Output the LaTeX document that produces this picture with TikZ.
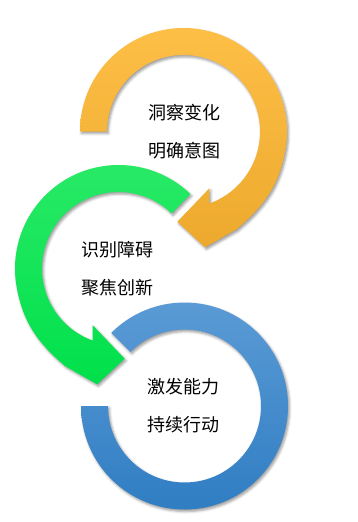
\documentclass[tikz,border=0pt]{standalone}
\usepackage{fontspec}
\newfontfamily\cjk{Noto Sans CJK SC}
\usetikzlibrary{shadows.blur}
\definecolor{orT}{HTML}{FEBF47}
\definecolor{orB}{HTML}{ECA92D}
\definecolor{gnT}{HTML}{2AEA67}
\definecolor{gnB}{HTML}{00E04B}
\definecolor{blT}{HTML}{5C9CD6}
\definecolor{blB}{HTML}{2E7CC2}
\begin{document}
\begin{tikzpicture}[x=1pt,y=1pt,
  ring/.style={blur shadow={shadow xshift=1.5pt,shadow yshift=-2pt,shadow blur radius=2.5pt,shadow opacity=40}},
  lbl/.style={font=\cjk\fontsize{18}{20}\selectfont,inner sep=0pt,text=black}]
\useasboundingbox (0,0) rectangle (357,-522);

% blue ring
\begin{scope}[shift={(184.5,-406)}]
\path[ring,top color=blT,bottom color=blB]
  (135:76.5) -- (135:103.5) arc[start angle=135,end angle=-180,radius=103.5]
  -- (180:76.5) arc[start angle=-180,end angle=135,radius=76.5] -- cycle;
\end{scope}

% green arrow
\begin{scope}[shift={(118.5,-268.5)}]
\path[ring,top color=gnT,bottom color=gnB]
  (46:76.5) -- (46:103.5) arc[start angle=46,end angle=190,radius=103.5]
  to[out=-80,in=139.6] (241.5:111.3) -- (259.5:117.8) -- (273.9:90.4)
  -- (245.6:62.4) -- (250.2:76.5) arc[start angle=250.2,end angle=46,radius=76.5] -- cycle;
\end{scope}

% orange arrow
\begin{scope}[shift={(183.5,-131.5)}]
\path[ring,top color=orT,bottom color=orB]
  (180:76.5) -- (180:103.5) arc[start angle=180,end angle=-10,radius=103.5]
  to[out=-100,in=40.4] (-61.5:111.3) -- (-79.5:117.8) -- (-93.9:90.4)
  -- (-65.6:62.4) -- (-70.2:76.5) arc[start angle=-70.2,end angle=180,radius=76.5] -- cycle;
\end{scope}

\node[lbl] (o1) at (184,-112.5) {洞察变化};
\node[lbl] (o2) at (184,-150.5) {明确意图};
\node[lbl] (g1) at (117.5,-249.5) {识别障碍};
\node[lbl] (g2) at (117.5,-287.5) {聚焦创新};
\node[lbl] (b1) at (183.5,-387) {激发能力};
\node[lbl] (b2) at (183.5,-425) {持续行动};
\end{tikzpicture}
\end{document}
